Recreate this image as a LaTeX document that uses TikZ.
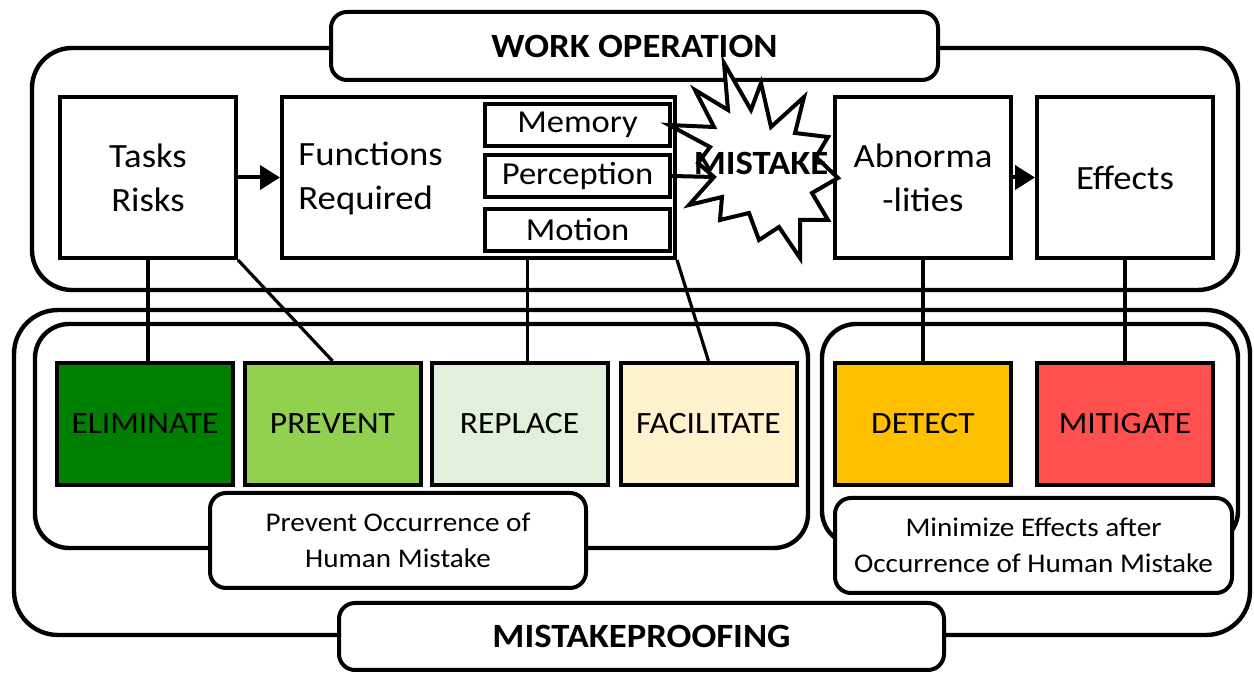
\documentclass[tikz,border=0pt]{standalone}
\usepackage{fontspec}
\setmainfont{Carlito}[FakeStretch=1.08]
\usetikzlibrary{arrows.meta,calc,positioning}
\definecolor{elimgreen}{RGB}{0,128,0}
\definecolor{prevgreen}{RGB}{146,208,80}
\definecolor{replgreen}{RGB}{226,239,218}
\definecolor{facilyellow}{RGB}{255,242,204}
\definecolor{detectorange}{RGB}{255,192,0}
\definecolor{mitigred}{RGB}{255,80,80}
\tikzset{
  frame/.style={draw, line width=2.2pt, rounded corners=20pt},
  tag/.style={draw, fill=white, line width=2pt, rounded corners=8pt, inner sep=0pt, align=center},
  stagebox/.style={draw, line width=2pt, minimum width=88pt, minimum height=80.5pt, inner sep=0pt, align=center, font=\fontsize{17}{22}\selectfont},
  funcbox/.style={draw, line width=2pt, minimum width=92.5pt, minimum height=21pt, inner sep=0pt, font=\fontsize{16}{18}\selectfont},
  actbox/.style={draw, line width=2pt, minimum width=88pt, minimum height=61pt, inner sep=0pt, font=\fontsize{15.5}{18}\selectfont},
  link/.style={line width=1.6pt},
  flow/.style={line width=2pt, -{Triangle[length=10pt,width=12pt]}},
}

\begin{document}
\begin{tikzpicture}[x=0.5pt, y=-0.5pt]
\useasboundingbox (0,0) rectangle (1254,673);
% containers
\draw[frame] (32,48) rectangle (1238,290);
\draw[frame, rounded corners=22pt] (14,310) rectangle (1250,635);
\draw[frame, rounded corners=17pt] (35,324) rectangle (808,548);
\draw[frame, rounded corners=17pt] (822,324) rectangle (1238,545);
% titles
\node[tag, minimum width=303.5pt, minimum height=34pt, font=\bfseries\fontsize{17}{20}\selectfont] (workop) at (634.5,46) {WORK OPERATION};
\node[tag, minimum width=302.5pt, minimum height=33.5pt, font=\bfseries\fontsize{17}{20}\selectfont] (mpf) at (641.5,636.5) {MISTAKEPROOFING};
\node[tag, minimum width=188pt, minimum height=47.5pt, font=\fontsize{13.5}{18}\selectfont] (prevlbl) at (398,540.5) {Prevent Occurrence of\\Human Mistake};
\node[tag, minimum width=198.5pt, minimum height=47.5pt, font=\fontsize{13.5}{18}\selectfont] (minlbl) at (1033.5,545.5) {Minimize Effects after\\Occurrence of Human Mistake};
% work operation
\node[stagebox] (tasks) at (148,177.5) {Tasks\\Risks};
\node[stagebox, minimum width=196.5pt] (func) at (478.5,177.5) {};
\node[anchor=west, inner sep=0pt, align=left, font=\fontsize{17}{22}\selectfont] (funclbl) at (298,178) {Functions\\Required};
\node[funcbox] (memory) at (577.5,125) {Memory};
\node[funcbox] (perc) at (577.5,176) {Perception};
\node[funcbox] (motion) at (577.5,230) {Motion};
\node[stagebox] (abn) at (923,177.5) {Abnorma\\-lities};
\node[stagebox] (eff) at (1125,177.5) {Effects};
\coordinate (burstin) at (714,177);
\draw[flow] (tasks) -- (func);
\draw[flow] (abn) -- (eff);
\draw[link, line width=2pt] (perc.east) -- (burstin);
% mistake burst
\draw[line width=2pt, fill=white, line join=miter] (724,63) -- (751,110) -- (761,83) -- (771,127) -- (804,97) -- (795,133)
  -- (828,137) -- (816,157) -- (838,178) -- (812,193) -- (828,220) -- (800,220) -- (800,258) -- (779,227)
  -- (759,240) -- (749,213) -- (720,220) -- (722,197) -- (689,205) -- (714,177) -- (698,163) -- (710,147)
  -- (669,125) -- (714,127) -- (695,90) -- (728,110) -- cycle;
\node[font=\bfseries\fontsize{17}{20}\selectfont, inner sep=0pt] (mistake) at (761,163) {MISTAKE};
% mistakeproofing
\node[actbox, fill=elimgreen] (elim) at (145,424) {ELIMINATE};
\node[actbox, fill=prevgreen] (prev) at (332.5,424) {PREVENT};
\node[actbox, fill=replgreen] (repl) at (519.5,424) {REPLACE};
\node[actbox, fill=facilyellow] (facil) at (708.5,424) {FACILITATE};
\node[actbox, fill=detectorange] (detect) at (923,424) {DETECT};
\node[actbox, fill=mitigred] (mitig) at (1125,424) {MITIGATE};
\draw[link] (tasks.south) -- (tasks.south |- elim.north);
\draw[link] (tasks.south east) -- (prev.north);
\draw[link] ($(repl.north)+(8,0)$) -- ($(repl.north |- func.south)+(8,0)$);
\draw[link] (func.south east) -- (facil.north);
\draw[link] (abn.south) -- (detect.north);
\draw[link] (eff.south) -- (mitig.north);
\end{tikzpicture}
\end{document}
